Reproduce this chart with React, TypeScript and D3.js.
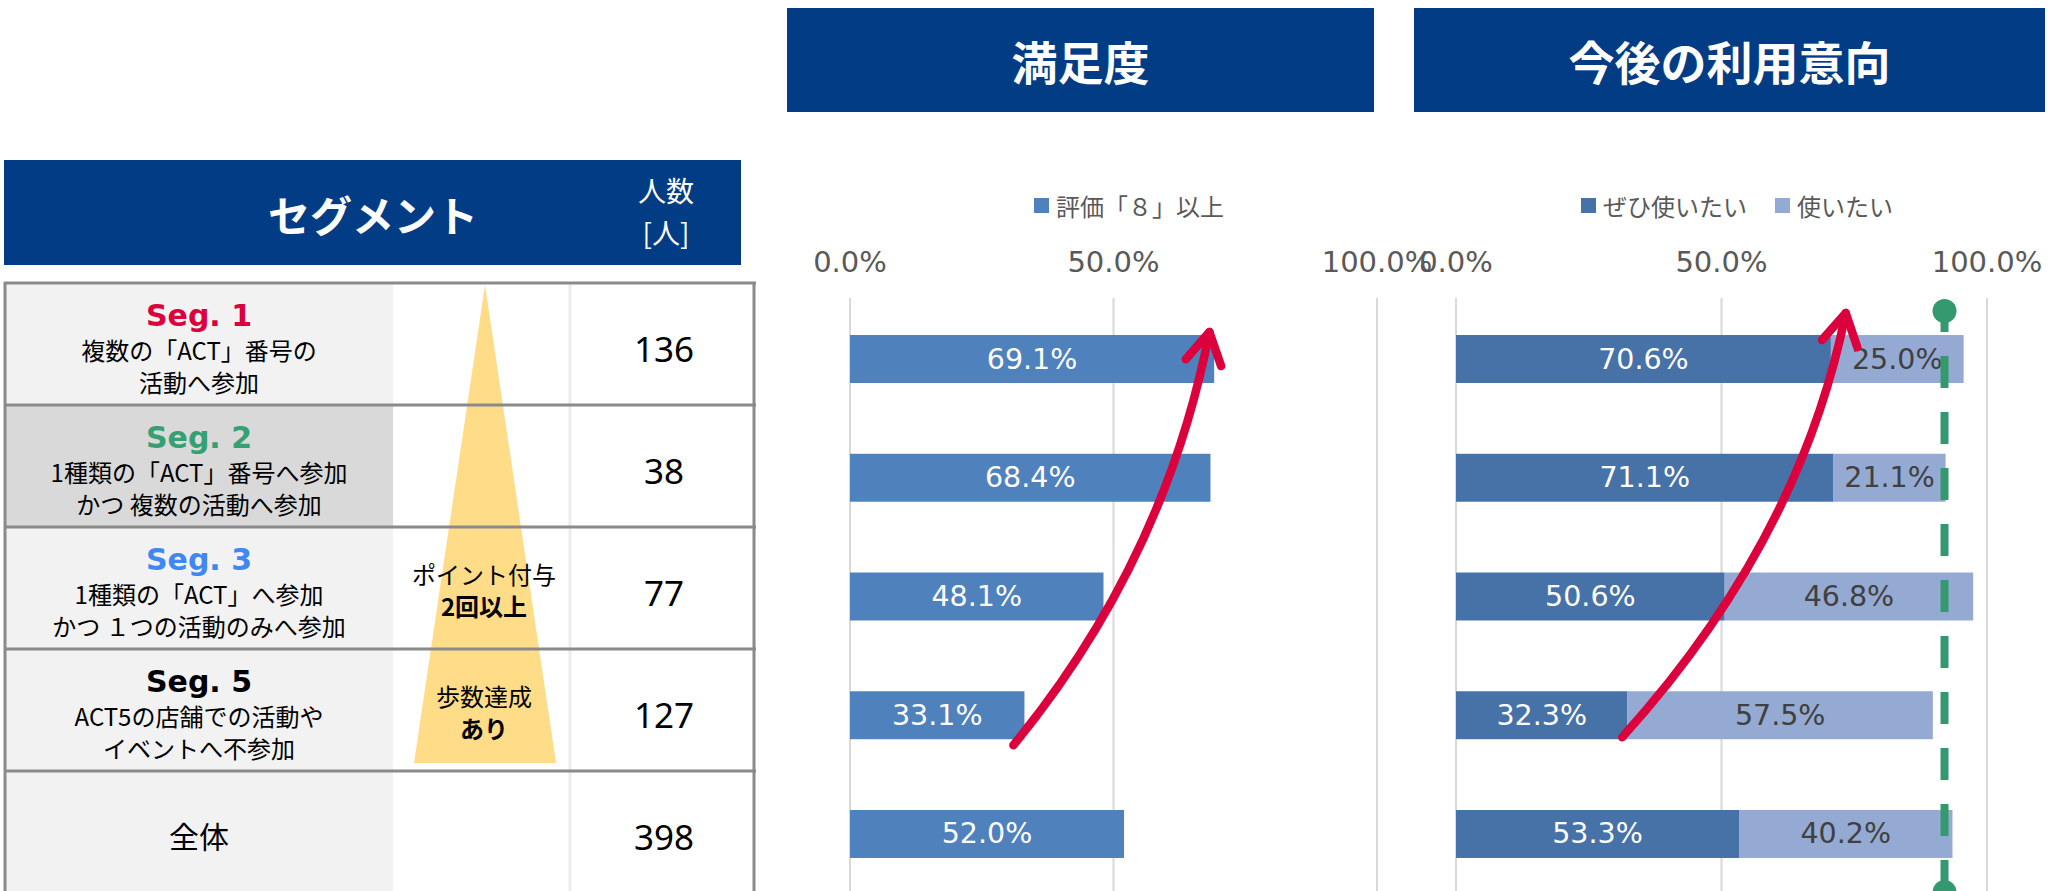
import React, { useEffect, useRef } from 'react'
import * as d3 from 'd3'

// table / segments
const segments = ['Seg. 1', 'Seg. 2', 'Seg. 3', 'Seg. 5', '全体']
const segColors = ['#dc003c', '#35a073', '#3f88f2', '#000000', '#000000']
const segLines = [
    ['複数の「ACT」番号の', '活動へ参加'],
    ['1種類の「ACT」番号へ参加', 'かつ 複数の活動へ参加'],
    ['1種類の「ACT」へ参加', 'かつ １つの活動のみへ参加'],
    ['ACT5の店舗での活動や', 'イベントへ不参加'],
    [],
]
const counts = [136, 38, 77, 127, 398]

// charts
const satisfaction = [69.1, 68.4, 48.1, 33.1, 52.0]
const veryWant = [70.6, 71.1, 50.6, 32.3, 53.3]
const want = [25.0, 21.1, 46.8, 57.5, 40.2]
const xTicks = [0, 50, 100]
const satLegend = ['評価「８」以上']
const intentLegend = ['ぜひ使いたい', '使いたい']
const intentTarget = 92

const NAVY = '#023c84'
const JP = "'Noto Sans CJK JP', 'Noto Sans', sans-serif"
const NUM = "'DejaVu Sans', sans-serif"

function App() {
    const ref = useRef<SVGSVGElement>(null)

    useEffect(() => {
        const svg = d3.select(ref.current)
        svg.selectAll('*').remove()

        const height = 891

        // ---------- left table ----------
        const rowY = d3.scaleBand().domain(segments).range([283, 893])
        const t = svg.append('g')

        t.append('rect').attr('x', 4).attr('y', 160).attr('width', 737).attr('height', 105).attr('fill', NAVY)
        t.append('text').attr('x', 373).attr('y', 213).attr('text-anchor', 'middle').attr('dominant-baseline', 'central')
            .style('font-family', JP).style('font-size', '42px').style('font-weight', 700).attr('fill', '#fff').text('セグメント')
        t.append('text').attr('x', 666).attr('y', 190).attr('text-anchor', 'middle').attr('dominant-baseline', 'central')
            .style('font-family', JP).style('font-size', '28px').attr('fill', '#fff').text('人数')
        t.append('text').attr('x', 666).attr('y', 232).attr('text-anchor', 'middle').attr('dominant-baseline', 'central')
            .style('font-family', JP).style('font-size', '28px').attr('fill', '#fff').text('[人]')

        // row backgrounds
        t.selectAll('.row-bg').data(segments).join('rect')
            .attr('x', 5).attr('y', d => rowY(d)!).attr('width', 388).attr('height', rowY.bandwidth())
            .attr('fill', (d, i) => i === 1 ? '#d9d9d9' : '#f2f2f2')

        // triangle
        t.append('polygon').attr('points', '485,285 414,763 556,763').attr('fill', '#ffdc88')

        t.append('line').attr('x1', 570).attr('x2', 570).attr('y1', 283).attr('y2', 891)
            .attr('stroke', '#ececec').attr('stroke-width', 3)

        t.selectAll('.row-line').data(segments).join('line')
            .attr('x1', 4).attr('x2', 756).attr('y1', d => rowY(d)!).attr('y2', d => rowY(d)!)
            .attr('stroke', '#8a8a8a').attr('stroke-width', 3)
        ;[5, 754].forEach(x => {
            t.append('line').attr('x1', x).attr('x2', x).attr('y1', 282).attr('y2', 891)
                .attr('stroke', '#8a8a8a').attr('stroke-width', 3)
        })

        const triText = [
            { y: 573, text: 'ポイント付与', bold: false },
            { y: 605, text: '2回以上', bold: true },
            { y: 695, text: '歩数達成', bold: false },
            { y: 727, text: 'あり', bold: true },
        ]
        t.selectAll('.tri-text').data(triText).join('text')
            .attr('x', 484).attr('y', d => d.y).attr('text-anchor', 'middle').attr('dominant-baseline', 'central')
            .style('font-family', JP).style('font-size', '24px').style('font-weight', d => d.bold ? 700 : 400)
            .attr('fill', '#000').text(d => d.text)

        segments.forEach((seg, i) => {
            const top = rowY(seg)!
            if (segLines[i].length) {
                t.append('text').attr('x', 199).attr('y', top + 32).attr('text-anchor', 'middle').attr('dominant-baseline', 'central')
                    .style('font-family', NUM).style('font-size', '30px').style('font-weight', 700)
                    .attr('fill', segColors[i]).text(seg)
                segLines[i].forEach((line, j) => {
                    t.append('text').attr('x', 199).attr('y', top + 66 + j * 32).attr('text-anchor', 'middle')
                        .attr('dominant-baseline', 'central')
                        .style('font-family', JP).style('font-size', '24px').attr('fill', '#000').text(line)
                })
            } else {
                t.append('text').attr('x', 199).attr('y', top + 64).attr('text-anchor', 'middle').attr('dominant-baseline', 'central')
                    .style('font-family', JP).style('font-size', '30px').attr('fill', '#000').text(seg)
            }
            t.append('text').attr('x', 664).attr('y', top + 65).attr('text-anchor', 'middle').attr('dominant-baseline', 'central')
                .style('font-family', "'Noto Sans', sans-serif").style('font-size', '35px').attr('fill', '#000')
                .text(counts[i])
        })

        // ---------- charts ----------
        const y = d3.scaleBand().domain(segments).range([300, 893]).paddingInner(0.596).paddingOuter(0.295)
        const xSat = d3.scaleLinear().domain([0, 100]).range([850, 1377])
        const xInt = d3.scaleLinear().domain([0, 100]).range([1456, 1987])
        const fmt = (v: number) => d3.format('.1f')(v) + '%'

        const titles = [
            { x0: 787, x1: 1374, label: '満足度' },
            { x0: 1414, x1: 2045, label: '今後の利用意向' },
        ]
        titles.forEach(b => {
            svg.append('rect').attr('x', b.x0).attr('y', 8).attr('width', b.x1 - b.x0).attr('height', 104).attr('fill', NAVY)
            svg.append('text').attr('x', (b.x0 + b.x1) / 2).attr('y', 60).attr('text-anchor', 'middle')
                .attr('dominant-baseline', 'central').style('font-family', JP).style('font-size', '46px')
                .style('font-weight', 700).attr('fill', '#fff').text(b.label)
        })

        const drawGrid = (x: d3.ScaleLinear<number, number>) => {
            const g = svg.append('g')
            g.selectAll('line').data(xTicks).join('line')
                .attr('x1', d => x(d)).attr('x2', d => x(d)).attr('y1', 298).attr('y2', height)
                .attr('stroke', '#d9d9d9').attr('stroke-width', 2)
            g.selectAll('text').data(xTicks).join('text')
                .attr('x', d => x(d)).attr('y', 262).attr('text-anchor', 'middle').attr('dominant-baseline', 'central')
                .style('font-family', NUM).style('font-size', '29px').attr('fill', '#595959')
                .text(d => fmt(d))
        }
        drawGrid(xSat)
        drawGrid(xInt)

        // legends
        const legendItem = (sqX: number, color: string, label: string) => {
            svg.append('rect').attr('x', sqX).attr('y', 198).attr('width', 15).attr('height', 15).attr('fill', color)
            svg.append('text').attr('x', sqX + 22).attr('y', 205).attr('dominant-baseline', 'central')
                .style('font-family', JP).style('font-size', '24px').attr('fill', '#595959').text(label)
        }
        legendItem(1034, '#4f81bd', satLegend[0])
        legendItem(1581, '#4672a8', intentLegend[0])
        legendItem(1775, '#95aad2', intentLegend[1])

        // satisfaction bars
        const sat = svg.append('g')
        sat.selectAll('rect').data(satisfaction).join('rect')
            .attr('x', xSat(0)).attr('y', (d, i) => y(segments[i])!)
            .attr('width', d => xSat(d) - xSat(0)).attr('height', y.bandwidth())
            .attr('fill', '#4f81bd')
        sat.selectAll('text').data(satisfaction).join('text')
            .attr('x', d => (xSat(0) + xSat(d)) / 2).attr('y', (d, i) => y(segments[i])! + y.bandwidth() / 2)
            .attr('text-anchor', 'middle').attr('dominant-baseline', 'central')
            .style('font-family', NUM).style('font-size', '28.5px').attr('fill', '#fff')
            .text(d => fmt(d))

        // intention stacked bars
        const keys = ['veryWant', 'want']
        const intentColors = ['#4672a8', '#95aad2']
        const intentLabelColors = ['#ffffff', '#404040']
        const rows = segments.map((s, i) => ({ seg: s, veryWant: veryWant[i], want: want[i] }))
        const stacked = d3.stack<any>().keys(keys)(rows)
        const intent = svg.append('g')
        stacked.forEach((layer, k) => {
            intent.append('g').selectAll('rect').data(layer).join('rect')
                .attr('x', d => xInt(d[0])).attr('y', d => y(d.data.seg)!)
                .attr('width', d => xInt(d[1]) - xInt(d[0])).attr('height', y.bandwidth())
                .attr('fill', intentColors[k])
            intent.append('g').selectAll('text').data(layer).join('text')
                .attr('x', d => (xInt(d[0]) + xInt(d[1])) / 2).attr('y', d => y(d.data.seg)! + y.bandwidth() / 2)
                .attr('text-anchor', 'middle').attr('dominant-baseline', 'central')
                .style('font-family', NUM).style('font-size', '28.5px').attr('fill', intentLabelColors[k])
                .text(d => fmt(d[1] - d[0]))
        })

        // green target line
        const gx = xInt(intentTarget)
        svg.append('line').attr('x1', gx).attr('x2', gx).attr('y1', 300).attr('y2', height + 4)
            .attr('stroke', '#35996f').attr('stroke-width', 8).attr('stroke-dasharray', '32 24')
        ;[311, 892].forEach(cy => {
            svg.append('circle').attr('cx', gx).attr('cy', cy).attr('r', 12).attr('fill', '#35996f')
        })

        // red arrows
        const drawArrow = (p0: number[], c: number[], p2: number[]) => {
            const g = svg.append('g').attr('fill', 'none').attr('stroke', '#dc003c')
                .attr('stroke-width', 8.5).attr('stroke-linecap', 'round').attr('stroke-linejoin', 'round')
            g.append('path').attr('d', `M${p0[0]},${p0[1]} Q${c[0]},${c[1]} ${p2[0]},${p2[1]}`)
            const dx = p2[0] - c[0], dy = p2[1] - c[1]
            const len = Math.hypot(dx, dy)
            const bx = -dx / len, by = -dy / len
            const a = Math.PI / 6, L = 36
            const arm = (s: number) => [
                p2[0] + L * (Math.cos(s * a) * bx - Math.sin(s * a) * by),
                p2[1] + L * (Math.sin(s * a) * bx + Math.cos(s * a) * by),
            ]
            const a1 = arm(1), a2 = arm(-1)
            g.append('path').attr('d', `M${a1[0]},${a1[1]} L${p2[0]},${p2[1]} L${a2[0]},${a2[1]}`)
        }
        const bw = y.bandwidth()
        drawArrow(
            [xSat(31), y('Seg. 5')! + bw / 2 + 30],
            [xSat(59.8), y('Seg. 3')! - 12],
            [xSat(68.2), y('Seg. 1')! - 3]
        )
        drawArrow(
            [xInt(31.3), y('Seg. 5')! + bw / 2 + 22],
            [xInt(64.8), y('Seg. 3')! - 32],
            [xInt(73.4), y('Seg. 1')! - 22]
        )
    }, [])

    return (
        <svg ref={ref} width={2060} height={891}
            style={{ position: 'absolute', left: 0, top: 0, display: 'block', background: '#fff' }} />
    )
}

export default App
